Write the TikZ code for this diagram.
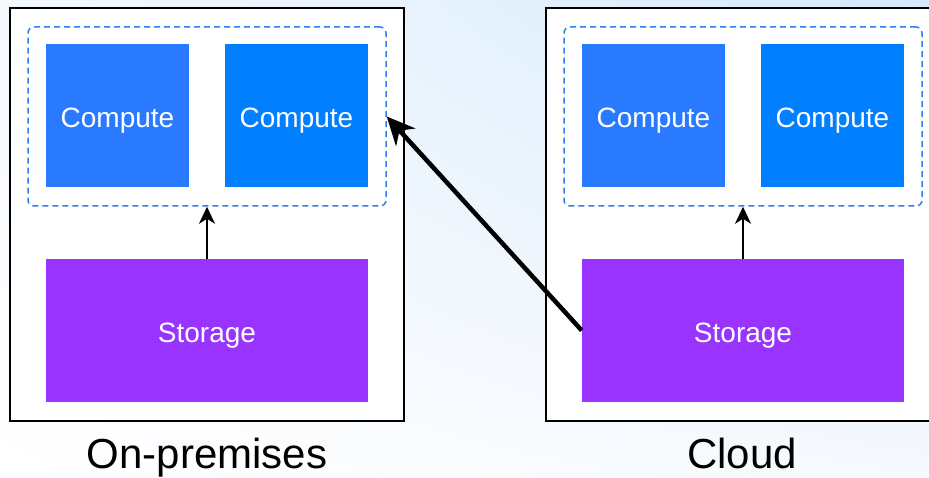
\documentclass[tikz,border=0pt]{standalone}
\usepackage{fontspec}
\setmainfont{Liberation Sans}
\usetikzlibrary{arrows.meta,shadings}
\definecolor{bgA}{HTML}{FFFFFF}
\definecolor{bgB}{HTML}{F5F9FE}
\definecolor{bgC}{HTML}{D4E9FB}
\definecolor{bgD}{HTML}{F6F9FD}
\definecolor{compA}{HTML}{2A7AFF}
\definecolor{compB}{HTML}{007FFF}
\definecolor{stor}{HTML}{9933FF}
\definecolor{dashc}{HTML}{2F7DEE}
\tikzset{
  outerbox/.style={draw=black, line width=1.2pt, fill=white, minimum width=394pt, minimum height=413pt, inner sep=0pt},
  groupbox/.style={draw=dashc, dash pattern=on 6pt off 4pt, line width=1.5pt, rounded corners=6pt, minimum width=358pt, minimum height=179pt, inner sep=0pt},
  compbox/.style={minimum width=143pt, minimum height=143pt, inner sep=0pt, text=white, text height=24pt, text depth=0pt, font=\fontsize{28}{32}\selectfont},
  storbox/.style={fill=stor, minimum width=322pt, minimum height=143pt, inner sep=0pt, text=white, text height=24pt, text depth=0pt, font=\fontsize{28}{32}\selectfont},
  caption/.style={font=\fontsize{42}{46}\selectfont, text=black, inner sep=0pt, anchor=base},
  thinarrow/.style={-{Stealth[length=17pt,width=16pt,inset=5pt]}, line width=1.7pt, black},
  thickarrow/.style={-{Stealth[length=28pt,width=26pt,inset=9pt]}, line width=4.5pt, black}
}
\begin{document}
\begin{tikzpicture}[x=1pt,y=-1pt]
\useasboundingbox (0,0) rectangle (929,478);
\clip (0,0) rectangle (929,478);
\shade[upper left=bgB, upper right=bgC, lower left=bgA, lower right=bgD] (0,0) rectangle (929,478);
% left side
\node[outerbox] (outerL) at (207,214.5) {};
\node[groupbox] (groupL) at (207,116.5) {};
\node[compbox, fill=compA] (c1) at (117.5,115.5) {Compute};
\node[compbox, fill=compB] (c2) at (296.5,115.5) {Compute};
\node[storbox] (sL) at (207,330.5) {Storage};
\draw[thinarrow] (sL.north) -- (groupL.south);
\node[caption] (labL) at (207,468) {On-premises};
% right side
\node[outerbox] (outerR) at (743,214.5) {};
\node[groupbox] (groupR) at (743,116.5) {};
\node[compbox, fill=compA] (c3) at (653.5,115.5) {Compute};
\node[compbox, fill=compB] (c4) at (832.5,115.5) {Compute};
\node[storbox] (sR) at (743,330.5) {Storage};
\draw[thinarrow] (sR.north) -- (groupR.south);
\node[caption] (labR) at (742,468) {Cloud};
% cross arrow
\draw[thickarrow] (sR.west) -- (groupL.east);
\end{tikzpicture}
\end{document}
